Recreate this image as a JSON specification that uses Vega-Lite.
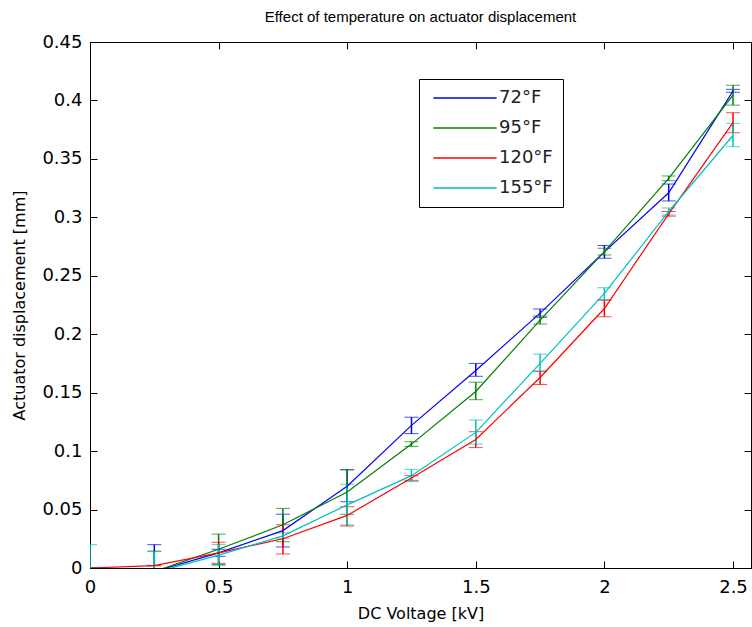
{
  "$schema": "https://vega.github.io/schema/vega-lite/v6.json",
  "autosize": {"type": "none"},
  "width": 661,
  "height": 526,
  "padding": {"left": 90, "top": 42, "right": 1, "bottom": 59},
  "background": "white",
  "title": {"text": "Effect of temperature on actuator displacement", "fontSize": 15, "font": "Liberation Sans", "fontWeight": "normal", "color": "black", "anchor": "middle", "offset": 8},
  "config": {
    "view": {"stroke": "black", "strokeWidth": 1},
    "font": "DejaVu Sans",
    "axis": {"grid": false, "domainColor": "black", "tickColor": "black", "labelColor": "black", "titleColor": "black", "labelFont": "DejaVu Sans", "titleFont": "DejaVu Sans", "labelFontSize": 18, "titleFontSize": 16, "titleFontWeight": "normal", "tickSize": -7, "labelFlush": false, "labelOverlap": false}
  },
  "data": {"values": [
    {"V": 0, "T": "72°F", "d": 0, "lo": 0, "hi": 0},
    {"V": 0.25, "T": "72°F", "d": -0.003, "lo": -0.026, "hi": 0.020},
    {"V": 0.5, "T": "72°F", "d": 0.013, "lo": 0.010, "hi": 0.016},
    {"V": 0.75, "T": "72°F", "d": 0.032, "lo": 0.018, "hi": 0.046},
    {"V": 1, "T": "72°F", "d": 0.070, "lo": 0.0567, "hi": 0.084},
    {"V": 1.25, "T": "72°F", "d": 0.122, "lo": 0.115, "hi": 0.129},
    {"V": 1.5, "T": "72°F", "d": 0.169, "lo": 0.164, "hi": 0.175},
    {"V": 1.75, "T": "72°F", "d": 0.218, "lo": 0.2145, "hi": 0.2216},
    {"V": 2, "T": "72°F", "d": 0.2705, "lo": 0.265, "hi": 0.276},
    {"V": 2.25, "T": "72°F", "d": 0.321, "lo": 0.314, "hi": 0.3285},
    {"V": 2.5, "T": "72°F", "d": 0.408, "lo": 0.407, "hi": 0.4095},
    {"V": 0, "T": "95°F", "d": 0, "lo": 0, "hi": 0},
    {"V": 0.25, "T": "95°F", "d": -0.003, "lo": -0.020, "hi": 0.0145},
    {"V": 0.5, "T": "95°F", "d": 0.016, "lo": 0.003, "hi": 0.029},
    {"V": 0.75, "T": "95°F", "d": 0.037, "lo": 0.0225, "hi": 0.051},
    {"V": 1, "T": "95°F", "d": 0.065, "lo": 0.046, "hi": 0.084},
    {"V": 1.25, "T": "95°F", "d": 0.106, "lo": 0.104, "hi": 0.108},
    {"V": 1.5, "T": "95°F", "d": 0.151, "lo": 0.144, "hi": 0.159},
    {"V": 1.75, "T": "95°F", "d": 0.212, "lo": 0.2087, "hi": 0.2156},
    {"V": 2, "T": "95°F", "d": 0.2707, "lo": 0.2678, "hi": 0.2735},
    {"V": 2.25, "T": "95°F", "d": 0.3333, "lo": 0.3313, "hi": 0.3354},
    {"V": 2.5, "T": "95°F", "d": 0.4046, "lo": 0.396, "hi": 0.413},
    {"V": 0, "T": "120°F", "d": 0, "lo": 0, "hi": 0},
    {"V": 0.25, "T": "120°F", "d": 0.002, "lo": 0.002, "hi": 0.002},
    {"V": 0.5, "T": "120°F", "d": 0.013, "lo": 0.004, "hi": 0.022},
    {"V": 0.75, "T": "120°F", "d": 0.025, "lo": 0.012, "hi": 0.037},
    {"V": 1, "T": "120°F", "d": 0.045, "lo": 0.036, "hi": 0.0525},
    {"V": 1.25, "T": "120°F", "d": 0.077, "lo": 0.075, "hi": 0.079},
    {"V": 1.5, "T": "120°F", "d": 0.110, "lo": 0.103, "hi": 0.1166},
    {"V": 1.75, "T": "120°F", "d": 0.163, "lo": 0.157, "hi": 0.1685},
    {"V": 2, "T": "120°F", "d": 0.222, "lo": 0.215, "hi": 0.229},
    {"V": 2.25, "T": "120°F", "d": 0.303, "lo": 0.301, "hi": 0.305},
    {"V": 2.5, "T": "120°F", "d": 0.381, "lo": 0.3724, "hi": 0.3895},
    {"V": 0, "T": "155°F", "d": 0, "lo": -0.02, "hi": 0.02},
    {"V": 0.25, "T": "155°F", "d": -0.004, "lo": -0.022, "hi": 0.014},
    {"V": 0.5, "T": "155°F", "d": 0.011, "lo": 0.002, "hi": 0.020},
    {"V": 0.75, "T": "155°F", "d": 0.0275, "lo": 0.025, "hi": 0.030},
    {"V": 1, "T": "155°F", "d": 0.054, "lo": 0.0368, "hi": 0.0716},
    {"V": 1.25, "T": "155°F", "d": 0.079, "lo": 0.0739, "hi": 0.0844},
    {"V": 1.5, "T": "155°F", "d": 0.116, "lo": 0.106, "hi": 0.1266},
    {"V": 1.75, "T": "155°F", "d": 0.175, "lo": 0.168, "hi": 0.183},
    {"V": 2, "T": "155°F", "d": 0.235, "lo": 0.2298, "hi": 0.2398},
    {"V": 2.25, "T": "155°F", "d": 0.305, "lo": 0.302, "hi": 0.308},
    {"V": 2.5, "T": "155°F", "d": 0.370, "lo": 0.3604, "hi": 0.3804}
  ]},
  "resolve": {"axis": {"x": "independent", "y": "independent"}, "legend": {"color": "independent"}},
  "layer": [
    {
      "mark": {"type": "errorbar", "ticks": {"size": 14, "strokeWidth": 1.5}, "rule": {"strokeWidth": 1.5}, "clip": true},
      "encoding": {
        "x": {"field": "V", "type": "quantitative", "scale": {"domain": [0, 2.57], "nice": false, "zero": false}, "axis": null},
        "y": {"field": "lo", "type": "quantitative", "scale": {"domain": [0, 0.45], "nice": false}, "axis": null},
        "y2": {"field": "hi"},
        "color": {"field": "T", "type": "nominal", "legend": null, "scale": {"domain": ["72°F", "95°F", "120°F", "155°F"], "range": ["#0000FF", "#008000", "#FF0000", "#00BFBF"]}}
      }
    },
    {
      "mark": {"type": "line", "strokeWidth": 1.2, "clip": true},
      "encoding": {
        "x": {"field": "V", "type": "quantitative", "scale": {"domain": [0, 2.57], "nice": false, "zero": false}, "axis": {"orient": "bottom", "values": [0, 0.5, 1, 1.5, 2, 2.5], "format": "~g", "title": "DC Voltage [kV]", "labelPadding": 17, "titlePadding": 9}},
        "y": {"field": "d", "type": "quantitative", "scale": {"domain": [0, 0.45], "nice": false}, "axis": {"orient": "left", "values": [0, 0.05, 0.1, 0.15, 0.2, 0.25, 0.3, 0.35, 0.4, 0.45], "format": "~g", "title": "Actuator displacement [mm]", "labelPadding": 15, "titlePadding": 14}},
        "color": {"field": "T", "type": "nominal", "sort": ["72°F", "95°F", "120°F", "155°F"], "scale": {"domain": ["72°F", "95°F", "120°F", "155°F"], "range": ["#0000FF", "#008000", "#FF0000", "#00BFBF"]},
          "legend": {"title": null, "orient": "none", "legendX": 329, "legendY": 37, "strokeColor": "black", "fillColor": "white", "padding": 10, "symbolType": "M-4,0H4", "symbolSize": 250, "symbolOffset": 27, "symbolStrokeWidth": 1.5, "labelFontSize": 18, "labelColor": "#222222", "labelFont": "DejaVu Sans", "rowPadding": 12, "labelOffset": 25}}
      }
    },
    {
      "mark": {"type": "point", "opacity": 0},
      "encoding": {
        "x": {"field": "V", "type": "quantitative", "scale": {"domain": [0, 2.57], "nice": false, "zero": false}, "axis": {"orient": "top", "values": [0, 0.5, 1, 1.5, 2, 2.5], "labels": false, "title": null}},
        "y": {"field": "d", "type": "quantitative", "scale": {"domain": [0, 0.45], "nice": false}, "axis": {"orient": "right", "values": [0, 0.05, 0.1, 0.15, 0.2, 0.25, 0.3, 0.35, 0.4, 0.45], "labels": false, "title": null}}
      }
    }
  ]
}
